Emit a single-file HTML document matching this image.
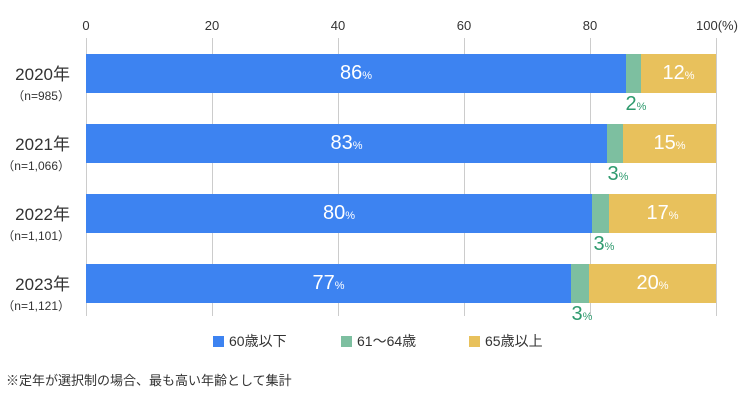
<!DOCTYPE html>
<html><head><meta charset="utf-8"><style>
body{margin:0;background:#fff;width:742px;height:400px;overflow:hidden;position:relative;font-family:"Liberation Sans","Noto Sans CJK JP",sans-serif;color:#333}
.a{position:absolute}
.g{position:absolute;top:38px;width:1px;height:278px;background:#ccc}
.t{position:absolute;top:18px;font-size:13px;transform:translateX(-50%)}
.bar{position:absolute;height:39px}
.in{position:absolute;top:0;height:39px;line-height:39px;color:#fff;font-size:20px;text-align:center}
.in small,.gl small{font-size:11px}
.gl{position:absolute;color:#2e9a6e;font-size:20px;transform:translateX(-50%)}
.yl{position:absolute;right:672px;text-align:right}
.yl b{display:block;font-weight:normal;font-size:17px;color:#333}
.yl span{display:block;font-size:12px;margin-top:2px}
.lg{position:absolute;top:331px;font-size:14px}
.lg i{display:inline-block;width:11px;height:11px;vertical-align:-1px;margin-right:5px}
</style></head><body>
<div class="g" style="left:86px"></div><div class="g" style="left:212px"></div><div class="g" style="left:338px"></div><div class="g" style="left:464px"></div><div class="g" style="left:590px"></div><div class="g" style="left:716px"></div>
<div class="t" style="left:86px">0</div><div class="t" style="left:212px">20</div><div class="t" style="left:338px">40</div><div class="t" style="left:464px">60</div><div class="t" style="left:590px">80</div><div class="t" style="left:717px;transform:none;left:696px">100(%)</div>

<div class="yl" style="top:60px"><b>2020年</b><span>（n=985）</span></div>
<div class="yl" style="top:130px"><b>2021年</b><span>（n=1,066）</span></div>
<div class="yl" style="top:200px"><b>2022年</b><span>（n=1,101）</span></div>
<div class="yl" style="top:270px"><b>2023年</b><span>（n=1,121）</span></div>

<div class="bar" style="top:54px;left:86px;width:630px">
<div class="in" style="left:0;width:540px;background:#3d83f1">86<small>%</small></div>
<div class="in" style="left:540px;width:15px;background:#7dbfa0"></div>
<div class="in" style="left:555px;width:75px;background:#e8c15c">12<small>%</small></div></div>
<div class="gl" style="left:636px;top:93px">2<small>%</small></div>

<div class="bar" style="top:124px;left:86px;width:630px">
<div class="in" style="left:0;width:521px;background:#3d83f1">83<small>%</small></div>
<div class="in" style="left:521px;width:16px;background:#7dbfa0"></div>
<div class="in" style="left:537px;width:93px;background:#e8c15c">15<small>%</small></div></div>
<div class="gl" style="left:618px;top:163px">3<small>%</small></div>

<div class="bar" style="top:194px;left:86px;width:630px">
<div class="in" style="left:0;width:506px;background:#3d83f1">80<small>%</small></div>
<div class="in" style="left:506px;width:17px;background:#7dbfa0"></div>
<div class="in" style="left:523px;width:107px;background:#e8c15c">17<small>%</small></div></div>
<div class="gl" style="left:604px;top:233px">3<small>%</small></div>

<div class="bar" style="top:264px;left:86px;width:630px">
<div class="in" style="left:0;width:485px;background:#3d83f1">77<small>%</small></div>
<div class="in" style="left:485px;width:18px;background:#7dbfa0"></div>
<div class="in" style="left:503px;width:127px;background:#e8c15c">20<small>%</small></div></div>
<div class="gl" style="left:582px;top:303px">3<small>%</small></div>

<div class="lg" style="left:213px"><i style="background:#3d83f1"></i>60歳以下</div>
<div class="lg" style="left:341px"><i style="background:#7dbfa0"></i>61～64歳</div>
<div class="lg" style="left:469px"><i style="background:#e8c15c"></i>65歳以上</div>
<div class="a" style="left:6px;top:370px;font-size:13px">※定年が選択制の場合、最も高い年齢として集計</div>
</body></html>
